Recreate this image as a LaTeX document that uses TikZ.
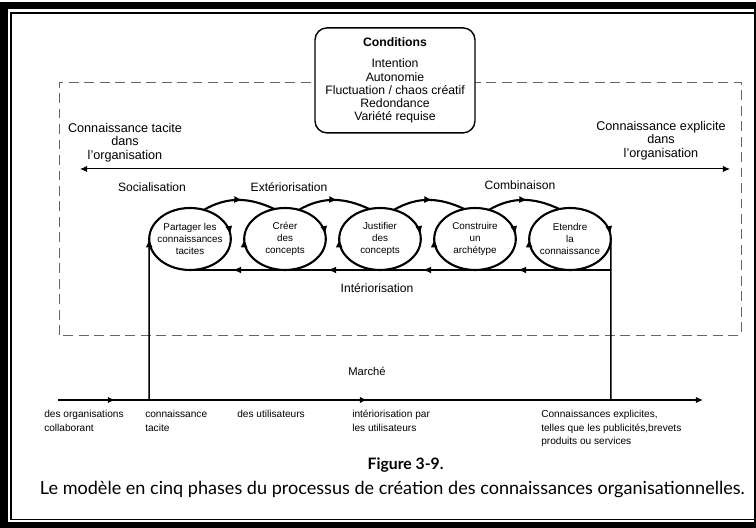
\documentclass[tikz,border=0pt]{standalone}
\usepackage{fontspec}
\setmainfont{Liberation Sans}
\newfontfamily\capfont{Lato}
\usepackage{tikz}
\usetikzlibrary{arrows.meta,calc,decorations.markings}
\tikzset{
  >={Latex[length=5pt,width=4.5pt]},
  txt/.style    ={font=\fontsize{9}{9.6}\selectfont,align=center,inner sep=0pt},
  phase/.style  ={font=\fontsize{8.6}{10}\selectfont,inner sep=0pt},
  cell/.style   ={font=\fontsize{7}{8.5}\selectfont,align=center,inner sep=0pt},
  lbl/.style    ={font=\fontsize{7.2}{9.6}\selectfont,align=left,
                  anchor=north west,inner sep=0pt},
  condbox/.style={draw,line width=1pt,fill=white,rounded corners=0.3cm,
                  minimum width=4cm,minimum height=2.625cm,align=center,
                  font=\fontsize{8.7}{9.4}\selectfont,inner sep=0pt},
  spiral/.style ={line width=1.5pt},
  loopline/.style={spiral,postaction={decorate},
                  decoration={markings,
                    mark=at position 0.02 with {\arrowreversed{Latex[length=6pt,width=5pt]}},
                    mark=at position 0.5 with {\arrowreversed{Latex[length=6pt,width=5pt]}}}},
  midarrow/.style={postaction={decorate},
                  decoration={markings,
                    mark=at position 0.55 with {\arrow{Latex[length=6pt,width=5pt]}}}},
  market/.style ={line width=1pt,->,postaction={decorate},
                  decoration={markings,
                    mark=at position 0.0884 with {\arrow{Latex[length=5pt,width=4.5pt]}},
                    mark=at position 0.479 with {\arrow{Latex[length=5pt,width=4.5pt]}}}},
}
\begin{document}
\begin{tikzpicture}[x=1cm,y=1cm]
\useasboundingbox (0,0) rectangle (18.9,13.2);
%---------------- frame
\fill[black] (0,0) rectangle (18.9,13.15);
\fill[white] (0.2,0.15) rectangle (18.86,12.975);
\draw[line width=1pt] (0.275,0.2125) rectangle (18.86,12.875);
%---------------- organisation
\draw[black!60,dashed,dash pattern=on 7pt off 4pt] (1.475,4.825) rectangle (18.525,11.15);
\node[condbox] (cond) at (9.875,11.19)
  {\textbf{Conditions}\\[6pt]Intention\\Autonomie\\Fluctuation / chaos créatif\\Redondance\\Variété requise};
\node[txt] (tacit) at (3.125,9.64) {Connaissance tacite\\dans\\l'organisation};
\node[txt] (expl) at (16.525,9.69) {Connaissance explicite\\dans\\l'organisation};
\coordinate (tl) at (2.0,8.975);
\coordinate (tr) at (18.25,8.975);
\draw[line width=0.7pt,<->] (tl) -- (tr);
\node[phase] (soc) at (3.8,8.525) {Socialisation};
\node[phase] (ext) at (7.225,8.525) {Extériorisation};
\node[phase] (comb) at (13.0,8.575) {Combinaison};
%---------------- five phases
\node[cell] (p1) at (4.75,7.225) {Partager les\\connaissances\\tacites};
\node[cell] (p2) at (7.125,7.225) {Créer\\des\\concepts};
\node[cell] (p3) at (9.5,7.225) {Justifier\\des\\concepts};
\node[cell] (p4) at (11.875,7.225) {Construire\\un\\archétype};
\node[cell] (p5) at (14.25,7.225) {Etendre\\la\\connaissance};
\foreach \i in {1,...,5}
  \draw[loopline] (p\i.center) ellipse [x radius=1.02, y radius=0.775];
\foreach \i/\j in {1/2,2/3,3/4,4/5}
  \draw[spiral,midarrow] ($(p\i)+(70:1.02 and 0.775)$) to[out=30,in=155] ($(p\j)+(105:1.02 and 0.775)$);
\coordinate (ret) at ($(p5)+(1.02,-0.775)$);
\draw[spiral] (ret) -- (p5 |- ret);
\foreach \i/\j in {5/4,4/3,3/2,2/1}
  \draw[spiral,midarrow] (p\i |- ret) -- (p\j |- ret);
\node[phase] (int) at (9.425,6.0) {Intériorisation};
%---------------- market
\coordinate (m0) at (1.45,3.2);
\coordinate (m1) at (17.575,3.2);
\coordinate (mkin) at (3.73,3.2);
\coordinate (mkout) at (15.27,3.2);
\draw[market] (m0) -- (m1);
\draw[line width=1pt] (mkin) -- ($(p1)+(-1.02,0)$);
\draw[line width=1pt] ($(p5)+(1.02,0)$) -- (mkout);
\node[lbl,anchor=center,font=\fontsize{8}{9.6}\selectfont] (mar) at (9.175,3.91) {Marché};
\node[lbl] (l1) at (1.1,2.95) {des organisations\\collaborant};
\node[lbl] (l2) at (3.625,2.95) {connaissance\\tacite};
\node[lbl] (l3) at (5.925,2.95) {des utilisateurs};
\node[lbl] (l4) at (8.8,2.95) {intériorisation par\\les utilisateurs};
\node[lbl] (l5) at (13.525,2.95) {Connaissances explicites,\\telles que les publicités,brevets\\produits ou services};
%---------------- caption
\node[font=\capfont\bfseries\fontsize{11.2}{13}\selectfont,inner sep=0pt] (fig) at (10.14,1.575) {Figure 3-9.};
\node[font=\capfont\fontsize{12.85}{15}\selectfont,inner sep=0pt] (cap) at (9.81,0.95)
  {Le modèle en cinq phases du processus de création des connaissances organisationnelles.};
\end{tikzpicture}
\end{document}
